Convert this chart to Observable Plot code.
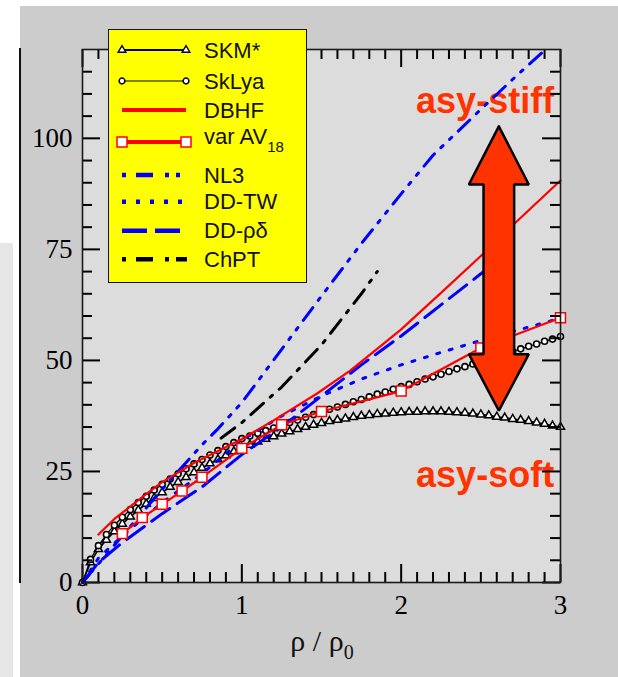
<!DOCTYPE html>
<html>
<head>
<meta charset="utf-8">
<script src="https://cdn.jsdelivr.net/npm/d3@7"></script>
<script src="https://cdn.jsdelivr.net/npm/@observablehq/plot@0.6"></script>
<style>
  html, body { margin: 0; padding: 0; background: #ffffff; }
  body { position: relative; width: 618px; height: 677px; overflow: hidden; }
  #strip { position: absolute; left: 0; top: 243px; width: 13px; height: 434px; background: #e6e6e6; }
  #panel { position: absolute; left: 20px; top: 6px; width: 598px; height: 671px; background: #cccccc; }
  #vline { position: absolute; left: 19px; top: 48px; width: 2px; height: 535px; background: #111; }
  #chart { position: absolute; left: 0; top: 0; }
  #legend { position: absolute; left: 108px; top: 29px; width: 199px; height: 254px; box-sizing: border-box;
            background: #ffff00; border: 1.5px solid #111; }
  #legend svg { position: absolute; left: -1.5px; top: -1.5px; overflow: visible; }
  #xtitle { position: absolute; left: 222px; width: 200px; top: 626px; text-align: center;
            font-family: "Liberation Serif", "Times New Roman", serif; font-size: 30px; line-height: 30px; color: #111; }
  #xtitle sub { font-size: 20px; vertical-align: -8px; line-height: 0; }
</style>
</head>
<body>
<div id="strip"></div>
<div id="panel"></div>
<div id="vline"></div>
<div id="chart"></div>
<div id="legend"></div>
<div id="xtitle">ρ / ρ<sub>0</sub></div>
<script>
// ---------- data ----------
const denseRho = [0,0.05,0.1,0.15,0.2,0.25,0.3,0.35,0.4,0.45,0.5,0.55,0.6,0.65,0.7,0.75,0.8,0.85,0.9,0.95,1,1.05,1.1,1.15,1.2,1.25,1.3,1.35,1.4,1.45,1.5,1.55,1.6,1.65,1.7,1.75,1.8,1.85,1.9,1.95,2,2.05,2.1,2.15,2.2,2.25,2.3,2.35,2.4,2.45,2.5,2.55,2.6,2.65,2.7,2.75,2.8,2.85,2.9,2.95,3];
const skmEsym = [0,4.5,7.5,9.6,11.5,13.2,14.8,16.3,17.7,19.0,20.3,21.5,22.6,23.7,24.8,25.8,26.8,27.7,28.6,29.5,30.3,31.0,31.7,32.3,32.9,33.5,34.0,34.5,35.0,35.5,35.9,36.3,36.6,36.9,37.2,37.5,37.7,37.9,38.0,38.2,38.3,38.4,38.4,38.5,38.5,38.5,38.4,38.3,38.2,38.0,37.8,37.6,37.3,37.1,36.8,36.6,36.3,36.0,35.7,35.3,35.0];
const sklyaEsym = [0,5.2,8.3,10.8,12.9,14.7,16.4,18.0,19.4,20.8,22.1,23.3,24.5,25.6,26.7,27.7,28.7,29.7,30.6,31.5,32.4,33.0,33.6,34.2,34.8,35.4,36.0,36.6,37.2,37.8,38.4,39.0,39.5,40.1,40.7,41.2,41.8,42.4,42.9,43.5,44.1,44.6,45.2,45.8,46.3,46.9,47.5,48.1,48.6,49.2,49.8,50.3,50.9,51.5,52.0,52.6,53.2,53.7,54.3,54.8,55.4];

const dbhfRho  = [0.1,0.2,0.375,0.5,0.7,0.9,1.0,1.2,1.47,1.68,1.89,2.0,2.25,2.5,2.72,3.0];
const dbhfEsym = [10.8,14.3,19.2,22.6,26.9,30.5,32.3,36.5,42.5,47.7,53.8,57.0,65.2,73.5,81.1,90.5];

const av18Rho  = [0.25,0.375,0.5,0.625,0.75,1.0,1.25,1.5,2.0,2.5,3.0];
const av18Esym = [11.0,14.6,17.6,20.6,23.7,30.2,35.5,38.5,43.1,52.8,59.6];

const nl3Rho  = [0,0.25,0.5,0.75,0.85,1.0,1.25,1.5,1.75,2.0,2.2,2.45,2.7,2.9];
const nl3Esym = [0,10.5,21.0,31.0,34.6,40.5,52.5,64.5,76.3,87.5,96.2,104.8,113.3,119.8];

const ddtwRho  = [0,0.1,0.25,0.5,0.75,1.0,1.25,1.5,1.75,2.0,2.25,2.5,2.75,3.0];
const ddtwEsym = [0,5.5,10.5,18.0,24.5,32.0,37.5,42.0,45.8,49.0,51.8,54.5,57.0,59.5];

const ddrdRho  = [0,0.1,0.25,0.5,0.75,1.0,1.25,1.5,1.75,2.0,2.25,2.5,2.6];
const ddrdEsym = [0,4.5,9.0,15.5,21.5,28.8,35.0,42.0,49.0,55.5,62.5,69.5,72.5];

const chptRho  = [0.87,1.0,1.25,1.5,1.75,1.85];
const chptEsym = [32.5,36.0,44.0,53.5,65.0,70.0];

const annoLabels = ["asy-stiff", "asy-soft"];
const annoRho    = [2.96, 2.96];
const annoEsym   = [108.4, 24.2];

const arrowRho  = [2.613,2.801,2.709,2.709,2.801,2.613,2.425,2.517,2.517,2.425,2.613];
const arrowEsym = [102.7,89.6,89.6,51.4,51.4,38.7,51.4,51.4,89.6,89.6,102.7];

const yMajorTicks = [0,25,50,75,100];
const xMajorTicks = [0,1,2,3];
const yMinorTicks = d3.range(5, 120, 5).filter(v => v % 25 !== 0);
const xMinorTicks = d3.range(1, 30).filter(v => v % 10 !== 0).map(v => v / 10);

const legendLabels = ["SKM*", "SkLya", "DBHF", "var AV", "NL3", "DD-TW", "DD-ρδ", "ChPT"];

// ---------- tables ----------
const table = (xs, ys) => xs.map((x, i) => ({rho: x, esym: ys[i]}));
const skm = table(denseRho, skmEsym);
const sklya = table(denseRho, sklyaEsym);
const dbhf = table(dbhfRho, dbhfEsym);
const av18 = table(av18Rho, av18Esym);
const nl3 = table(nl3Rho, nl3Esym);
const ddtw = table(ddtwRho, ddtwEsym);
const ddrd = table(ddrdRho, ddrdEsym);
const chpt = table(chptRho, chptEsym);
const arrow = table(arrowRho, arrowEsym);
const anno = annoLabels.map((t, i) => ({text: t, rho: annoRho[i], esym: annoEsym[i]}));

const RED = "#ff0000", BLUE = "#0000ff", ORANGE = "#ff3300";
const W = 618, H = 677, ML = 82, MR = 58, MT = 49, MB = 95;
const XMAX = 3, YMAX = 120;
const innerW = W - ML - MR, innerH = H - MT - MB;
const MAJ = 18, MIN = 10;
const tk = {stroke: "#000", strokeWidth: 2};

const chart = Plot.plot({
  width: W,
  height: H,
  marginLeft: ML,
  marginRight: MR,
  marginTop: MT,
  marginBottom: MB,
  x: {domain: [0, XMAX], label: null},
  y: {domain: [0, YMAX], label: null},
  style: {background: "transparent", fontFamily: "'Liberation Serif', 'Times New Roman', serif", fontSize: "27px"},
  marks: [
    Plot.frame({fill: "#dcdcdc", stroke: "none"}),
    // tick labels
    Plot.axisY(yMajorTicks, {anchor: "left", tickSize: 0, tickPadding: 10, label: null, tickFormat: d3.format("d")}),
    Plot.axisX(xMajorTicks, {anchor: "bottom", tickSize: 0, tickPadding: 12, label: null, tickFormat: d3.format("d")}),
    // annotations text
    Plot.text(anno, {x: "rho", y: "esym", text: "text", textAnchor: "end", fill: ORANGE,
      fontFamily: "'Liberation Sans', Arial, sans-serif", fontWeight: "bold", fontSize: 36}),
    // Skyrme curves
    Plot.line(skm, {x: "rho", y: "esym", stroke: "#000", strokeWidth: 1.6}),
    Plot.dot(skm, {x: "rho", y: "esym", symbol: "triangle", r: 3, fill: "#fff", stroke: "#000", strokeWidth: 1.5}),
    Plot.line(sklya, {x: "rho", y: "esym", stroke: "#000", strokeWidth: 1.2}),
    Plot.dot(sklya, {x: "rho", y: "esym", symbol: "circle", r: 3, fill: "#fff", stroke: "#000", strokeWidth: 1.6}),
    // RMF / DD curves
    Plot.line(nl3, {x: "rho", y: "esym", stroke: BLUE, strokeWidth: 3, strokeDasharray: "16,9,3,9,3,9"}),
    Plot.line(ddtw, {x: "rho", y: "esym", stroke: BLUE, strokeWidth: 3, strokeDasharray: "3,10"}),
    Plot.line(ddrd, {x: "rho", y: "esym", stroke: BLUE, strokeWidth: 3, strokeDasharray: "22,9"}),
    Plot.line(chpt, {x: "rho", y: "esym", stroke: "#000", strokeWidth: 3, strokeDasharray: "17,9,3,9"}),
    // DBHF and var AV18
    Plot.line(dbhf, {x: "rho", y: "esym", stroke: RED, strokeWidth: 2.2}),
    Plot.line(av18, {x: "rho", y: "esym", stroke: RED, strokeWidth: 2.2}),
    Plot.dot(av18, {x: "rho", y: "esym", symbol: "square", r: 5.6, fill: "#fff", stroke: RED, strokeWidth: 1.5}),
    // double arrow
    Plot.line(arrow, {x: "rho", y: "esym", fill: ORANGE, stroke: "#000", strokeWidth: 2.5, strokeLinejoin: "miter"}),
    // inward ticks on all four sides (rules inset from the far side of the frame)
    Plot.ruleY(yMajorTicks, {...tk, insetRight: innerW - MAJ}),
    Plot.ruleY(yMinorTicks, {...tk, insetRight: innerW - MIN}),
    Plot.ruleY(yMajorTicks, {...tk, insetLeft: innerW - MAJ}),
    Plot.ruleY(yMinorTicks, {...tk, insetLeft: innerW - MIN}),
    Plot.ruleX(xMajorTicks, {...tk, insetTop: innerH - MAJ}),
    Plot.ruleX(xMinorTicks, {...tk, insetTop: innerH - MIN}),
    Plot.ruleX(xMajorTicks, {...tk, insetBottom: innerH - MAJ}),
    Plot.ruleX(xMinorTicks, {...tk, insetBottom: innerH - MIN}),
    Plot.frame({stroke: "#1a1a1a", strokeWidth: 1.6})
  ]
});
document.getElementById("chart").appendChild(chart);

// ---------- legend ----------
const lg = d3.select("#legend").append("svg").attr("width", 199).attr("height", 254);
const rowY = [21, 52, 81, 113, 146, 172.7, 201.7, 230.3];
const x0 = 14, x1 = 78, tx = 96;
const sym = (type, area) => d3.symbol(type, area)();
function hline(y, stroke, width, dash, xa = x0, xb = x1) {
  lg.append("line").attr("x1", xa).attr("x2", xb).attr("y1", y).attr("y2", y)
    .attr("stroke", stroke).attr("stroke-width", width).attr("stroke-dasharray", dash || null);
}
function marker(x, y, d, stroke, sw) {
  lg.append("path").attr("d", d).attr("transform", `translate(${x},${y})`)
    .attr("fill", "#fff").attr("stroke", stroke).attr("stroke-width", sw);
}
hline(rowY[0], "#000", 1.8);
marker(x0, rowY[0], sym(d3.symbolTriangle, 26), "#000", 1.4);
marker(x1, rowY[0], sym(d3.symbolTriangle, 26), "#000", 1.4);
hline(rowY[1], "#000", 1.2);
marker(x0, rowY[1], sym(d3.symbolCircle, 26), "#000", 1.5);
marker(x1, rowY[1], sym(d3.symbolCircle, 26), "#000", 1.5);
hline(rowY[2], RED, 4);
hline(rowY[3], RED, 4);
marker(x0, rowY[3], sym(d3.symbolSquare, 100), RED, 1.5);
marker(x1, rowY[3], sym(d3.symbolSquare, 100), RED, 1.5);
hline(rowY[4], BLUE, 4.5, "4,10,17,12,4,7,4,100", x0, 74);
hline(rowY[5], BLUE, 4.5, "4,10", x0, 74);
hline(rowY[6], BLUE, 4.5, "25,8", x0, 72);
hline(rowY[7], "#000", 4.5, "4,10,17,12,4,7,11,100", x0, 79);

legendLabels.forEach((label, i) => {
  const t = lg.append("text").attr("x", tx).attr("y", i === 3 ? rowY[i] - 6 : rowY[i])
    .attr("dominant-baseline", "central")
    .attr("font-family", "'Liberation Sans', Arial, sans-serif").attr("font-size", 22).attr("fill", "#111")
    .text(label);
  if (i === 3) {
    t.append("tspan").attr("dy", 10).attr("font-size", 15).text("18");
  }
});
</script>
</body>
</html>
